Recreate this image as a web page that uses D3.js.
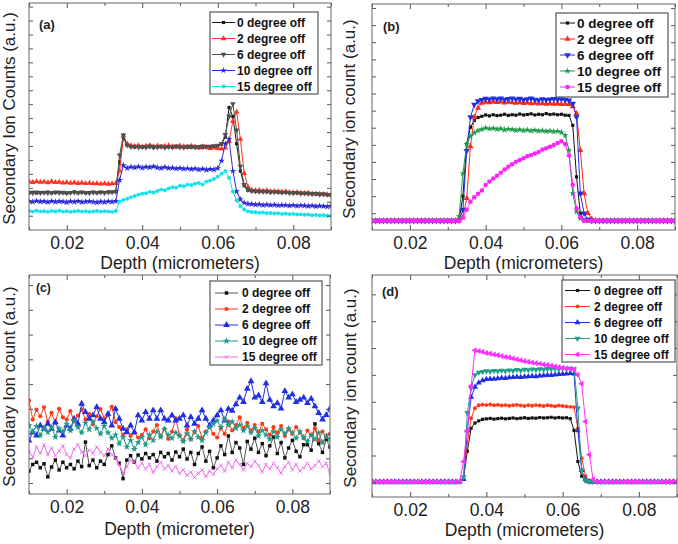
<!DOCTYPE html>
<html>
<head>
<meta charset="utf-8">
<script src="https://cdn.jsdelivr.net/npm/d3@7"></script>
<style>
  html, body { margin: 0; padding: 0; background: #fff; }
  svg { display: block; font-family: "Liberation Sans", Arial, sans-serif; }
</style>
</head>
<body>
<div id="chart"></div>
<script>
// depth grid shared by every curve (micrometers), 0.010 .. 0.090
const depth = d3.range(81).map(i => +(0.010 + i * 0.001).toFixed(3));
const legendLabels = ["0 degree off", "2 degree off", "6 degree off", "10 degree off", "15 degree off"];
const xMajor = [0.02, 0.04, 0.06, 0.08];
const xMinor = [0.01, 0.03, 0.05, 0.07, 0.09];

// ---- panel (a) ----
const aBlack = [16.2,16.6,16.3,16.5,16.4,16.7,16.3,16.5,16.6,16.4,
  16.2,16.5,16.8,16.4,16.6,16.3,16.5,16.7,16.4,16.6,
  16.5,16.8,16.6,17.0,30.0,40.5,37.5,36.8,36.5,36.9,
  36.4,36.8,36.6,36.3,36.7,36.9,36.5,36.6,36.4,36.8,
  36.6,36.5,36.9,36.4,36.6,36.7,36.3,36.6,36.8,36.5,
  37.0,37.8,41.0,54.0,50.0,38.0,26.0,19.5,17.5,17.2,
  17.0,16.9,17.1,16.8,16.7,16.9,16.6,16.5,16.7,16.4,
  16.3,16.5,16.2,16.1,16.3,16.0,15.9,15.8,15.9,15.6,
  15.5];
const aRed = [21.3,21.0,21.4,21.1,21.2,20.9,21.3,21.0,21.1,20.8,
  21.0,20.7,20.9,20.6,20.8,20.5,20.7,20.4,20.6,20.3,
  20.5,20.2,20.4,20.6,26.0,41.5,38.0,37.2,36.9,37.2,
  36.7,37.0,37.3,36.8,37.1,36.6,37.0,37.2,36.8,36.5,
  37.1,36.9,36.4,37.0,36.7,36.2,36.8,36.5,36.0,36.3,
  36.0,35.8,36.2,39.0,48.0,52.0,40.0,25.0,19.0,17.6,
  17.4,17.5,17.2,17.3,17.0,17.1,16.9,16.8,16.9,16.6,
  16.5,16.6,16.3,16.2,16.3,16.0,15.9,15.8,15.7,15.6,
  15.5];
const aGray = [16.6,16.3,16.7,16.4,16.6,16.3,16.5,16.7,16.4,16.6,
  16.3,16.5,16.6,16.4,16.7,16.5,16.3,16.6,16.5,16.7,
  16.4,16.6,16.8,16.9,33.0,41.8,37.4,36.7,36.8,36.5,
  36.7,36.4,36.9,36.6,36.5,36.8,36.4,36.7,36.6,36.9,
  36.5,36.4,36.7,36.8,36.5,36.6,36.9,36.7,36.8,37.0,
  37.3,38.0,42.0,50.0,55.5,44.0,28.0,20.0,17.8,17.3,
  17.1,17.0,16.9,17.0,16.8,16.7,16.8,16.5,16.6,16.4,
  16.3,16.4,16.1,16.2,16.0,15.9,16.0,15.7,15.8,15.6,
  15.4];
const aBlue = [12.7,12.4,12.8,12.5,12.6,12.3,12.7,12.4,12.6,12.5,
  12.2,12.6,12.4,12.7,12.3,12.5,12.6,12.4,12.2,12.5,
  12.3,12.6,12.4,12.7,22.0,28.5,27.3,27.8,27.5,27.9,
  27.4,27.8,27.6,28.0,27.5,27.3,27.7,27.2,27.4,27.0,
  27.3,26.9,27.1,26.8,27.0,26.6,26.9,26.5,26.8,26.6,
  27.2,30.5,38.0,40.0,26.0,17.0,13.5,12.0,11.5,11.4,
  11.2,11.3,11.0,11.2,10.9,11.1,10.8,11.0,10.9,10.7,
  10.9,10.6,10.8,10.7,10.5,10.7,10.4,10.6,10.5,10.3,
  10.6];
const aCyan = [8.4,8.1,8.5,8.2,8.3,8.0,8.4,8.2,8.5,8.1,
  8.3,8.0,8.2,8.4,8.1,8.3,8.0,8.2,8.4,8.1,
  8.3,8.2,8.0,8.4,12.5,13.2,13.8,14.5,15.0,15.6,
  16.0,16.2,16.8,16.5,17.2,17.8,17.5,18.3,18.8,18.6,
  19.5,19.3,20.0,19.8,20.4,20.7,20.0,21.3,21.8,22.5,
  23.5,24.8,26.0,23.0,17.0,13.0,10.5,9.0,8.2,7.9,
  7.8,7.6,7.7,7.4,7.5,7.3,7.4,7.1,7.2,7.0,
  7.1,6.8,6.9,6.7,6.8,6.5,6.6,6.4,6.5,6.3,
  6.2];

// ---- panel (b) ----
const bBlack = [4.1,4.1,4.1,4.1,4.1,4.1,4.1,4.1,4.1,4.1,
  4.1,4.1,4.1,4.1,4.1,4.1,4.1,4.1,4.1,4.1,
  4.1,4.1,4.1,4.5,15.0,38.0,45.5,48.5,49.8,50.3,
  50.9,50.5,51.0,50.6,50.8,51.2,50.7,51.0,50.8,51.3,
  50.9,51.1,51.4,50.9,51.2,51.0,51.5,51.1,51.3,51.0,
  51.2,50.8,50.7,46.3,23.5,7.4,4.4,4.1,4.1,4.1,
  4.1,4.1,4.1,4.1,4.1,4.1,4.1,4.1,4.1,4.1,
  4.1,4.1,4.1,4.1,4.1,4.1,4.1,4.1,4.1,4.1,
  4.1];
const bRed = [4.1,4.1,4.1,4.1,4.1,4.1,4.1,4.1,4.1,4.1,
  4.1,4.1,4.1,4.1,4.1,4.1,4.1,4.1,4.1,4.1,
  4.1,4.1,4.1,4.1,5.5,14.0,37.0,50.0,54.0,56.2,
  56.6,56.4,56.8,56.5,56.7,56.3,56.6,56.4,56.2,56.5,
  56.1,56.3,56.0,56.2,55.9,56.1,55.8,56.0,55.7,55.9,
  55.6,55.8,55.6,54.7,51.5,35.3,16.2,7.4,4.9,4.1,
  4.1,4.1,4.1,4.1,4.1,4.1,4.1,4.1,4.1,4.1,
  4.1,4.1,4.1,4.1,4.1,4.1,4.1,4.1,4.1,4.1,
  4.1];
const bBlue = [4.1,4.1,4.1,4.1,4.1,4.1,4.1,4.1,4.1,4.1,
  4.1,4.1,4.1,4.1,4.1,4.1,4.1,4.1,4.1,4.1,
  4.1,4.1,4.1,4.2,9.0,35.0,50.0,55.5,57.0,57.6,
  58.1,57.8,58.3,57.9,58.2,57.7,58.0,58.3,57.8,58.1,
  57.6,57.9,58.2,57.7,57.5,57.9,57.6,57.8,58.0,57.7,
  57.9,57.6,57.4,55.9,50.0,16.2,7.4,4.7,4.1,4.1,
  4.1,4.1,4.1,4.1,4.1,4.1,4.1,4.1,4.1,4.1,
  4.1,4.1,4.1,4.1,4.1,4.1,4.1,4.1,4.1,4.1,
  4.1];
const bGreen = [4.1,4.1,4.1,4.1,4.1,4.1,4.1,4.1,4.1,4.1,
  4.1,4.1,4.1,4.1,4.1,4.1,4.1,4.1,4.1,4.1,
  4.1,4.1,4.1,6.0,25.0,38.0,41.5,43.0,44.0,44.5,
  45.2,44.8,45.0,44.6,44.9,44.3,44.7,44.5,44.1,44.4,
  44.0,44.3,43.9,44.2,43.8,44.0,43.6,43.9,43.5,43.7,
  43.2,41.9,35.3,16.2,8.1,5.1,4.1,4.1,4.1,4.1,
  4.1,4.1,4.1,4.1,4.1,4.1,4.1,4.1,4.1,4.1,
  4.1,4.1,4.1,4.1,4.1,4.1,4.1,4.1,4.1,4.1,
  4.1];
const bMagenta = [4.1,4.1,4.1,4.1,4.1,4.1,4.1,4.1,4.1,4.1,
  4.1,4.1,4.1,4.1,4.1,4.1,4.1,4.1,4.1,4.1,
  4.1,4.1,4.1,4.1,5.5,9.0,12.5,14.5,16.0,17.5,
  19.9,21.5,22.8,24.0,25.3,26.8,28.0,29.1,30.2,31.0,
  31.8,32.6,33.2,33.8,34.5,35.6,36.2,36.8,37.6,38.5,
  39.3,38.0,33.0,20.0,9.6,5.6,4.1,4.1,4.1,4.1,
  4.1,4.1,4.1,4.1,4.1,4.1,4.1,4.1,4.1,4.1,
  4.1,4.1,4.1,4.1,4.1,4.1,4.1,4.1,4.1,4.1,
  4.1];

// ---- panel (c) ----
const cBlack = [10.5,13.5,14.5,12.0,13.8,7.8,12.3,15.5,11.0,14.5,
  12.0,13.5,11.5,15.0,12.5,23.7,13.0,15.5,12.0,15.0,
  13.5,18.0,22.0,16.5,14.0,7.0,15.5,17.5,14.5,17.8,
  16.0,18.5,16.5,18.0,15.0,19.0,17.0,18.5,15.5,19.2,
  17.0,20.5,16.0,19.0,13.5,18.5,21.5,15.0,19.5,12.0,
  16.5,22.0,18.0,26.5,19.0,23.5,21.0,13.5,24.0,20.5,
  25.5,19.0,23.0,17.5,22.0,26.0,18.5,23.5,16.5,21.0,
  24.5,19.5,17.0,22.5,22.5,20.0,32.0,23.0,19.0,25.0,
  21.5];
const cRed = [42.7,34.0,38.5,35.5,39.6,33.0,37.0,32.5,38.9,35.0,
  34.0,37.8,33.2,35.8,38.5,34.0,36.5,31.8,35.5,38.8,
  34.5,36.0,39.8,32.8,30.5,27.0,29.5,26.5,28.0,25.8,
  27.0,29.5,25.5,28.5,31.5,26.5,29.8,25.2,28.5,34.5,
  26.8,24.5,29.5,25.0,28.3,31.0,25.5,28.5,30.5,27.5,
  25.8,30.0,27.5,33.0,29.0,31.5,35.0,30.0,32.5,29.0,
  31.5,28.5,32.0,29.5,27.0,30.5,28.0,31.0,26.5,29.5,
  27.5,30.5,28.0,25.5,29.0,26.8,30.0,24.5,28.5,26.0,
  27.5];
const cBlue = [24.4,28.2,26.7,31.3,29.8,32.1,29.8,32.8,29.0,26.7,
  31.3,29.8,34.4,32.1,41.2,37.4,34.4,35.9,39.7,34.4,
  32.8,36.6,31.3,38.9,34.4,29.8,28.2,31.3,28.2,35.9,
  33.6,37.4,34.4,38.2,34.4,38.2,34.4,33.6,35.9,33.6,
  34.4,35.9,31.3,35.1,32.1,34.4,38.2,34.4,31.3,33.6,
  35.9,38.2,33.6,38.9,38.0,41.0,44.0,42.0,48.0,51.5,
  44.0,45.0,42.0,50.5,43.0,40.0,41.5,39.0,47.0,44.0,
  45.5,42.0,43.0,44.0,41.5,43.5,40.0,37.0,34.0,36.0,
  39.0];
const cTeal = [31.3,28.2,31.0,26.7,29.8,28.2,30.5,26.0,29.8,28.5,
  32.0,29.0,33.5,30.5,28.0,32.5,29.5,33.0,30.0,27.5,
  31.0,28.0,25.5,27.0,23.0,26.0,21.5,24.5,20.5,23.5,
  26.0,22.5,27.0,24.5,28.5,26.0,29.5,27.0,25.5,28.0,
  26.5,24.0,27.5,25.0,28.5,26.0,24.5,28.0,30.5,32.0,
  33.5,30.5,34.0,31.5,33.0,30.0,31.5,29.0,31.0,28.0,
  30.0,26.5,29.0,27.0,25.0,28.5,26.0,29.5,27.5,30.0,
  28.0,25.5,28.5,26.0,24.0,27.0,25.0,28.0,23.5,26.5,
  25.0];
const cMagenta = [19.5,16.9,21.5,18.5,22.4,18.0,21.0,17.5,19.5,22.0,
  18.0,16.5,20.5,22.5,19.0,17.5,20.0,18.5,21.5,19.0,
  17.5,20.5,18.0,16.5,13.2,9.6,12.5,15.5,14.5,12.0,
  14.0,11.5,13.5,9.8,12.5,14.5,11.5,13.0,10.5,12.5,
  9.5,11.0,8.5,10.0,7.5,9.5,11.0,8.0,10.5,9.0,
  11.5,13.0,10.5,14.5,12.0,15.5,13.5,11.0,14.0,12.5,
  15.0,13.0,10.0,13.5,11.5,14.0,12.0,9.5,12.5,14.5,
  11.0,13.5,10.5,12.0,14.0,11.5,13.0,15.0,12.5,14.0,
  9.5];

// ---- panel (d) ----
const dBlack = [6.9,6.9,6.9,6.9,6.9,6.9,6.9,6.9,6.9,6.9,
  6.9,6.9,6.9,6.9,6.9,6.9,6.9,6.9,6.9,6.9,
  6.9,6.9,6.9,6.9,8.5,20.6,31.0,33.3,34.3,35.0,
  35.2,35.4,35.1,35.3,35.5,35.2,35.4,35.6,35.3,35.5,
  35.7,35.4,35.6,35.5,35.8,35.6,35.7,35.9,35.6,35.8,
  35.6,35.7,35.3,30.0,16.0,9.4,7.3,6.9,6.9,6.9,
  6.9,6.9,6.9,6.9,6.9,6.9,6.9,6.9,6.9,6.9,
  6.9,6.9,6.9,6.9,6.9,6.9,6.9,6.9,6.9,6.9,
  6.9];
const dRed = [6.9,6.9,6.9,6.9,6.9,6.9,6.9,6.9,6.9,6.9,
  6.9,6.9,6.9,6.9,6.9,6.9,6.9,6.9,6.9,6.9,
  6.9,6.9,6.9,6.9,8.0,24.5,35.5,40.0,41.3,41.6,
  41.4,41.7,41.3,41.5,41.2,41.4,41.1,41.3,41.5,41.2,
  41.0,41.3,41.1,41.4,41.2,41.0,41.3,41.1,40.9,41.2,
  41.0,40.8,40.6,40.5,31.0,17.5,9.5,7.3,6.9,6.9,
  6.9,6.9,6.9,6.9,6.9,6.9,6.9,6.9,6.9,6.9,
  6.9,6.9,6.9,6.9,6.9,6.9,6.9,6.9,6.9,6.9,
  6.9];
const dBlue = [6.9,6.9,6.9,6.9,6.9,6.9,6.9,6.9,6.9,6.9,
  6.9,6.9,6.9,6.9,6.9,6.9,6.9,6.9,6.9,6.9,
  6.9,6.9,6.9,6.9,8.0,30.0,45.0,49.5,51.5,52.5,
  53.0,53.2,53.1,53.4,53.6,53.5,53.8,53.9,54.0,53.9,
  54.2,54.3,54.4,54.3,54.6,54.7,54.9,54.8,55.1,55.3,
  55.4,55.5,55.7,55.5,30.0,12.0,7.9,6.9,6.9,6.9,
  6.9,6.9,6.9,6.9,6.9,6.9,6.9,6.9,6.9,6.9,
  6.9,6.9,6.9,6.9,6.9,6.9,6.9,6.9,6.9,6.9,
  6.9];
const dTeal = [6.9,6.9,6.9,6.9,6.9,6.9,6.9,6.9,6.9,6.9,
  6.9,6.9,6.9,6.9,6.9,6.9,6.9,6.9,6.9,6.9,
  6.9,6.9,6.9,6.9,9.0,38.0,49.0,55.0,56.1,56.4,
  56.7,56.5,56.9,56.6,57.0,56.8,57.1,56.9,57.3,57.0,
  57.4,57.2,57.5,57.3,57.7,57.4,57.8,57.6,57.9,57.7,
  58.0,57.8,57.9,57.5,40.0,12.0,7.5,6.9,6.9,6.9,
  6.9,6.9,6.9,6.9,6.9,6.9,6.9,6.9,6.9,6.9,
  6.9,6.9,6.9,6.9,6.9,6.9,6.9,6.9,6.9,6.9,
  6.9];
const dMagenta = [6.9,6.9,6.9,6.9,6.9,6.9,6.9,6.9,6.9,6.9,
  6.9,6.9,6.9,6.9,6.9,6.9,6.9,6.9,6.9,6.9,
  6.9,6.9,6.9,7.2,16.0,30.0,50.0,66.1,65.8,65.4,
  64.9,64.6,64.2,63.9,63.5,63.1,62.8,62.4,62.0,61.6,
  61.2,60.9,60.6,60.3,60.0,59.7,59.4,59.1,58.8,58.5,
  58.2,58.0,57.8,57.5,55.0,51.0,34.0,19.0,8.0,6.9,
  6.9,6.9,6.9,6.9,6.9,6.9,6.9,6.9,6.9,6.9,
  6.9,6.9,6.9,6.9,6.9,6.9,6.9,6.9,6.9,6.9,
  6.9];

const width = 678, height = 544;
const font = '"Liberation Sans", Arial, sans-serif';

const svg = d3.select("#chart").append("svg")
  .attr("width", width)
  .attr("height", height);

// marker helpers
const sym = (type, size, rot) => ({ type: type, size: size, rot: rot || 0 });
const xMark = { draw(ctx, size) { // open x marker
  const r = Math.sqrt(size) / 2;
  ctx.moveTo(-r, -r); ctx.lineTo(r, r);
  ctx.moveTo(-r, r); ctx.lineTo(r, -r);
} };

const panels = [
  { tag: "(a)", x0: 29, x1: 331, y0: 3, y1: 230, tagX: 39, tagY: 29, tagSize: 13,
    yTitle: "Secondary Ion Counts (a.u.)", yTitleX: 15, xTitle: "Depth (micrometers)", xTitleY: 269,
    yTickStart: 6.3, yTickStep: 6.14,
    legend: { x0: 210, y0: 12, x1: 318, y1: 94, rowY: 22.5, step: 16, lx0: 212, lx1: 235, tx: 237, fs: 12 },
    series: [
      { v: aBlack, color: "#1a1a1a", m: sym(d3.symbolSquare, 10) },
      { v: aRed, color: "#ff3322", m: sym(d3.symbolTriangle, 14) },
      { v: aGray, color: "#505050", m: sym(d3.symbolTriangle, 14, 180) },
      { v: aBlue, color: "#2b2bd6", m: sym(d3.symbolStar, 14) },
      { v: aCyan, color: "#12e2ea", m: sym(d3.symbolCircle, 12) }
    ] },
  { tag: "(b)", x0: 372, x1: 675, y0: 4, y1: 230, tagX: 383, tagY: 31, tagSize: 13,
    yTitle: "Secondary ion count (a.u.)", yTitleX: 355, xTitle: "Depth (micrometers)", xTitleY: 269,
    yTickStart: 7.4, yTickStep: 7.57,
    legend: { x0: 556, y0: 13, x1: 668, y1: 97, rowY: 23, step: 16, lx0: 560, lx1: 575, tx: 577, fs: 13.5 },
    series: [
      { v: bBlack, color: "#111111", m: sym(d3.symbolSquare, 10) },
      { v: bRed, color: "#ff2a1a", m: sym(d3.symbolTriangle, 16) },
      { v: bBlue, color: "#1f2fe6", m: sym(d3.symbolTriangle, 18, 180) },
      { v: bGreen, color: "#1f9a4a", m: sym(d3.symbolStar, 14) },
      { v: bMagenta, color: "#ff22ff", m: sym(d3.symbolCircle, 16) }
    ] },
  { tag: "(c)", x0: 29, x1: 330, y0: 275, y1: 494, tagX: 36, tagY: 292, tagSize: 12,
    yTitle: "Secondary Ion count (a.u.)", yTitleX: 15, xTitle: "Depth (micrometer)", xTitleY: 535,
    yTickStart: 5, yTickStep: 11.3,
    legend: { x0: 210, y0: 281, x1: 322, y1: 365, rowY: 293, step: 16, lx0: 215, lx1: 238, tx: 242, fs: 12 },
    series: [
      { v: cBlack, color: "#111111", m: sym(d3.symbolSquare, 12), lineColor: "#555" },
      { v: cRed, color: "#ff3a1a", m: sym(d3.symbolCircle, 14) },
      { v: cBlue, color: "#2030e0", m: sym(d3.symbolTriangle, 20) },
      { v: cTeal, color: "#1f9a8a", m: sym(d3.symbolStar, 16) },
      { v: cMagenta, color: "#f070f0", m: sym(xMark, 12), open: true }
    ] },
  { tag: "(d)", x0: 372, x1: 677, y0: 275, y1: 497, tagX: 382, tagY: 296, tagSize: 13,
    yTitle: "Secondary ion count (a.u.)", yTitleX: 356, xTitle: "Depth (micrometers)", xTitleY: 536,
    yTickStart: 6.6, yTickStep: 12.1,
    legend: { x0: 562, y0: 280, x1: 675, y1: 362, rowY: 290.5, step: 16, lx0: 565, lx1: 590, tx: 594, fs: 12 },
    series: [
      { v: dBlack, color: "#111111", m: sym(d3.symbolSquare, 10) },
      { v: dRed, color: "#ff3a1a", m: sym(d3.symbolCircle, 12) },
      { v: dBlue, color: "#2030e0", m: sym(d3.symbolTriangle, 16) },
      { v: dTeal, color: "#1fa08a", m: sym(d3.symbolTriangle, 16, 180) },
      { v: dMagenta, color: "#ff30ff", m: sym(d3.symbolTriangle, 16, -90) }
    ] }
];

const drawMarker = (sel, s) => {
  sel.attr("d", d3.symbol(s.m.type, s.m.size))
    .attr("fill", s.open ? "none" : s.color)
    .attr("stroke", s.open ? s.color : "none")
    .attr("stroke-width", 1);
};

function drawPanel(p, idx) {
  const x = d3.scaleLinear().domain([0.01, 0.09]).range([p.x0, p.x1]);
  const y = d3.scaleLinear().domain([0, 100]).range([p.y1, p.y0]);
  const g = svg.append("g");

  const clipId = "clip" + idx;
  g.append("clipPath").attr("id", clipId)
    .append("rect")
    .attr("x", p.x0).attr("y", p.y0)
    .attr("width", p.x1 - p.x0).attr("height", p.y1 - p.y0);

  const plot = g.append("g").attr("clip-path", `url(#${clipId})`);
  const line = d3.line().x(d => x(d[0])).y(d => y(d[1]));

  p.series.forEach(s => {
    const pts = s.v.map((v, i) => [depth[i], v]);
    plot.append("path").datum(pts)
      .attr("fill", "none")
      .attr("stroke", s.lineColor || s.color)
      .attr("stroke-width", 1)
      .attr("d", line);
    plot.selectAll(null).data(pts).enter().append("path")
      .attr("transform", d => `translate(${x(d[0])},${y(d[1])}) rotate(${s.m.rot})`)
      .call(drawMarker, s);
  });

  // ticks, all pointing inward
  const yTicks = d3.range(p.yTickStart, 99.9, p.yTickStep);
  const tickStyle = a => {
    a.select(".domain").remove();
    a.selectAll("line").attr("stroke", "#555");
  };
  g.append("g").attr("transform", `translate(0,${p.y1})`)
    .call(d3.axisBottom(x).tickValues(xMajor).tickSize(-5).tickPadding(7).tickFormat(d3.format(".2f")))
    .call(tickStyle)
    .selectAll("text").attr("font-size", 17.5).attr("font-family", font).attr("fill", "#222");
  g.append("g").attr("transform", `translate(0,${p.y1})`)
    .call(d3.axisBottom(x).tickValues(xMinor).tickSize(-3).tickFormat(""))
    .call(tickStyle);
  g.append("g").attr("transform", `translate(0,${p.y0})`)
    .call(d3.axisTop(x).tickValues(xMajor).tickSize(-5).tickFormat(""))
    .call(tickStyle);
  g.append("g").attr("transform", `translate(0,${p.y0})`)
    .call(d3.axisTop(x).tickValues(xMinor).tickSize(-3).tickFormat(""))
    .call(tickStyle);
  g.append("g").attr("transform", `translate(${p.x0},0)`)
    .call(d3.axisLeft(y).tickValues(yTicks).tickSize(-4).tickFormat(""))
    .call(tickStyle);
  g.append("g").attr("transform", `translate(${p.x1},0)`)
    .call(d3.axisRight(y).tickValues(yTicks).tickSize(-4).tickFormat(""))
    .call(tickStyle);

  // frame
  g.append("rect")
    .attr("x", p.x0).attr("y", p.y0)
    .attr("width", p.x1 - p.x0).attr("height", p.y1 - p.y0)
    .attr("fill", "none").attr("stroke", "#666").attr("stroke-width", 1);

  // panel tag
  g.append("text").attr("x", p.tagX).attr("y", p.tagY)
    .attr("font-family", font).attr("font-size", p.tagSize).attr("font-weight", "bold")
    .attr("fill", "#222").text(p.tag);

  // axis titles
  g.append("text")
    .attr("x", (p.x0 + p.x1) / 2).attr("y", p.xTitleY)
    .attr("text-anchor", "middle")
    .attr("font-family", font).attr("font-size", 17.5).attr("fill", "#222")
    .text(p.xTitle);
  g.append("text")
    .attr("transform", `translate(${p.yTitleX},${(p.y0 + p.y1) / 2 + 2}) rotate(-90)`)
    .attr("text-anchor", "middle")
    .attr("font-family", font).attr("font-size", 17).attr("fill", "#222")
    .text(p.yTitle);

  // legend
  const L = p.legend;
  const lg = g.append("g");
  lg.append("rect")
    .attr("x", L.x0).attr("y", L.y0)
    .attr("width", L.x1 - L.x0).attr("height", L.y1 - L.y0)
    .attr("fill", "#fff").attr("stroke", "#555").attr("stroke-width", 1.2);
  p.series.forEach((s, k) => {
    const ry = L.rowY + k * L.step;
    lg.append("line")
      .attr("x1", L.lx0).attr("x2", L.lx1).attr("y1", ry).attr("y2", ry)
      .attr("stroke", s.lineColor || s.color).attr("stroke-width", 1);
    lg.append("path")
      .attr("transform", `translate(${(L.lx0 + L.lx1) / 2},${ry}) rotate(${s.m.rot})`)
      .call(drawMarker, s);
    lg.append("text")
      .attr("x", L.tx).attr("y", ry + L.fs * 0.36)
      .attr("font-family", font).attr("font-size", L.fs).attr("font-weight", "bold")
      .attr("fill", "#111")
      .text(legendLabels[k]);
  });
}

panels.forEach(drawPanel);
</script>
</body>
</html>
